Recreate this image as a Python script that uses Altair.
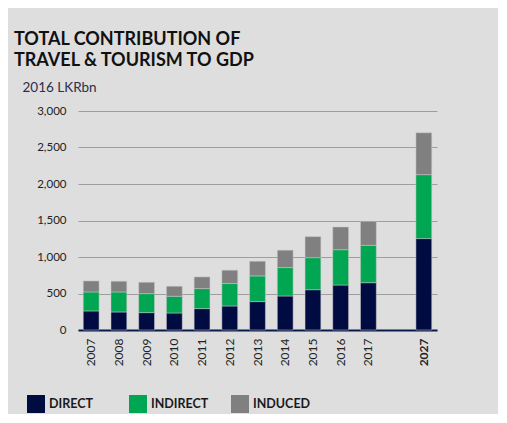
import altair as alt
import pandas as pd

years = ["2007", "2008", "2009", "2010", "2011", "2012", "2013", "2014", "2015", "2016", "2017", "2027"]
direct = [261, 247, 238, 233, 293, 329, 389, 466, 552, 616, 648, 1252]
indirect = [260, 274, 260, 229, 274, 307, 352, 389, 439, 484, 512, 876]
induced = [151, 147, 156, 137, 160, 183, 201, 238, 288, 311, 329, 574]
components = ["DIRECT", "INDIRECT", "INDUCED"]
colors = ["#000b42", "#00a651", "#808080"]
x_domain = years[:-1] + [" "] + years[-1:]

rows = []
for series, vals in zip(components, [direct, indirect, induced]):
    for i, (y, v) in enumerate(zip(years, vals)):
        rows.append({"year": y, "component": series, "value": v, "rank": components.index(series)})
df = pd.DataFrame(rows)

FONT = "Lato"

chart = alt.Chart(df).mark_bar(stroke="#c8c8c8", strokeWidth=0.5).encode(
    x=alt.X("year:N", scale=alt.Scale(domain=x_domain, paddingInner=0.43, paddingOuter=0.19),
            axis=alt.Axis(title=None, labelAngle=-90, ticks=False, domainColor="#0a1a4a",
                          domainWidth=2, labelFontSize=12, labelColor="#222222", labelPadding=8,
                          labelFont=FONT,
                          labelFontWeight=alt.condition("datum.value == '2027'", alt.value("bold"), alt.value("normal")))),
    y=alt.Y("value:Q", stack="zero", scale=alt.Scale(domain=[0, 3000]),
            axis=alt.Axis(values=[0, 500, 1000, 1500, 2000, 2500, 3000], format=",.0f", domain=False, ticks=False,
                          gridColor="#9e9e9e", gridWidth=1.2, labelFontSize=11.5, labelColor="#222222",
                          labelPadding=12, labelFont=FONT,
                          title="2016 LKRbn", titleAngle=0, titleAlign="left", titleBaseline="alphabetic",
                          titleX=-56, titleY=-20, titleFontSize=13.5, titleFontWeight="normal",
                          titleColor="#2a2f4a", titleFont=FONT)),
    color=alt.Color("component:N", scale=alt.Scale(domain=components, range=colors),
                    legend=alt.Legend(title=None, orient="none", direction="horizontal", columns=3,
                                      legendX=-51, legendY=284, symbolType="square", symbolSize=324,
                                      symbolStrokeWidth=0, labelFontSize=12.5, labelFontWeight="bold",
                                      labelColor="#1a1a1a", labelFont=FONT, gridAlign="all",
                                      columnPadding=22, symbolOffset=0, labelOffset=4, padding=0)),
    order=alt.Order("rank:Q", sort="ascending"),
).properties(
    width=359,
    height=219,
    title=alt.TitleParams(text=["TOTAL CONTRIBUTION OF", "TRAVEL & TOURISM TO GDP"], anchor="start",
                          frame="group", dx=-64, fontSize=18, fontWeight="bold", font=FONT, color="#111111",
                          lineHeight=21, offset=10),
    autosize=alt.AutoSizeParams(type="none"),
    padding={"left": 70, "top": 103, "right": 61, "bottom": 84},
).configure(background="#dedede").configure_view(stroke=None)

chart.save("out.html", embed_options={"renderer": "svg", "actions": False})
